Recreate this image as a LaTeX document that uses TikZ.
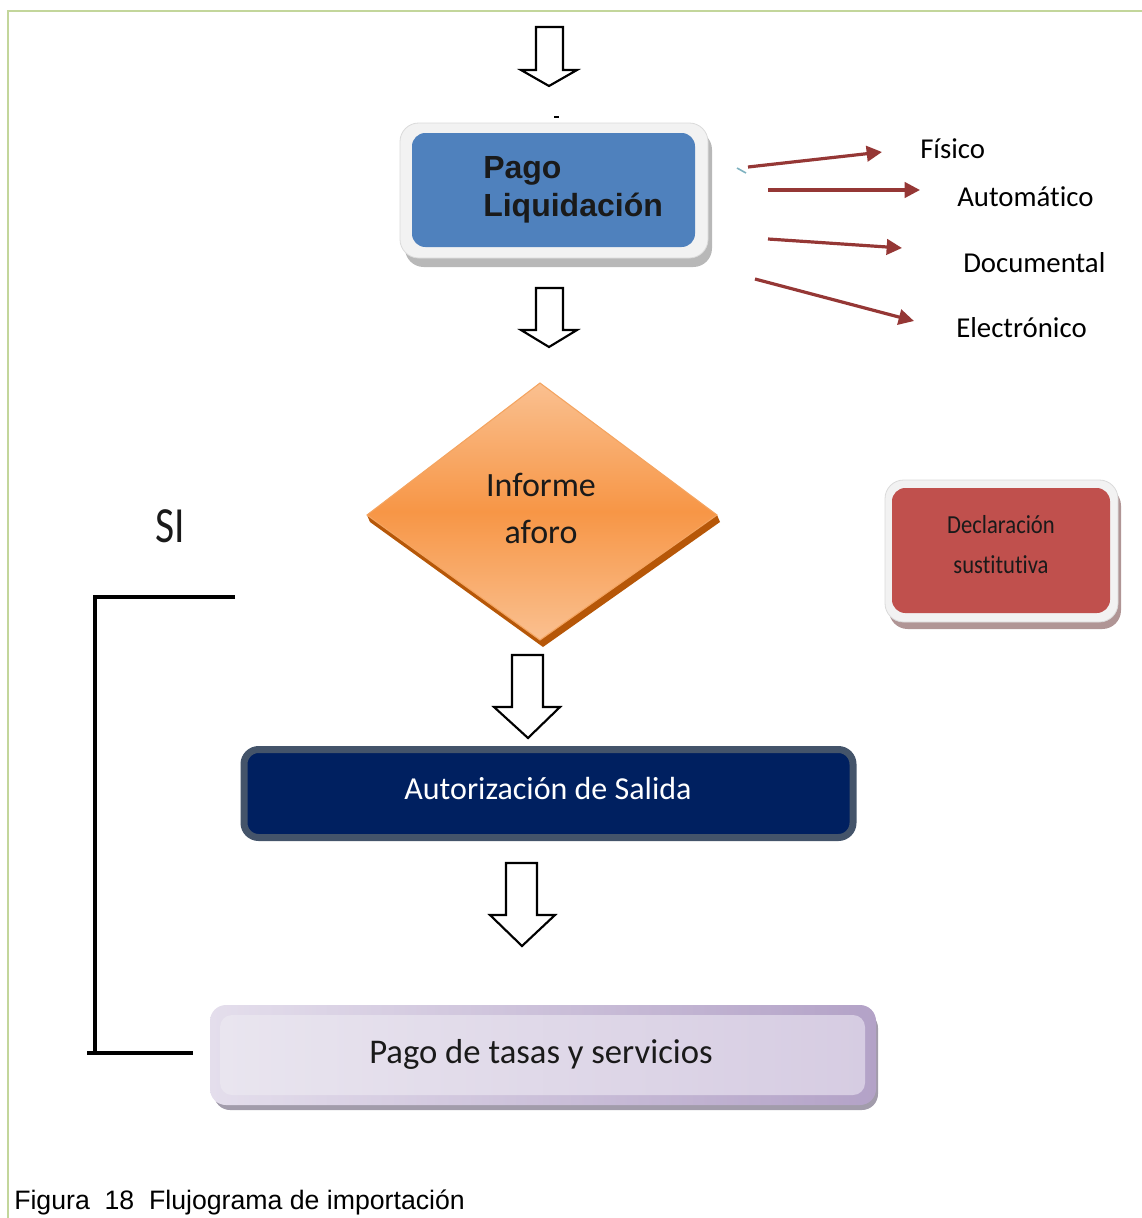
\documentclass[tikz,border=0pt]{standalone}
\usepackage{fontspec}
\setmainfont{Carlito}[Ligatures=NoCommon]
\newfontfamily\arialfont{Liberation Sans}
\usetikzlibrary{arrows.meta,shapes.geometric}
\definecolor{pblue}{HTML}{4F81BD}
\definecolor{frameg}{HTML}{F2F2F2}
\definecolor{frameline}{HTML}{DADADA}
\definecolor{shadowg}{HTML}{B8B8B8}
\definecolor{arrred}{HTML}{953735}
\definecolor{dred}{HTML}{C0504D}
\definecolor{dredsh}{HTML}{B09595}
\definecolor{orlight}{HTML}{FAC090}
\definecolor{ormid}{HTML}{F79646}
\definecolor{orshadow}{HTML}{B65708}
\definecolor{oredge}{HTML}{F4A460}
\definecolor{navyb}{HTML}{002060}
\definecolor{slateb}{HTML}{44546A}
\definecolor{lilacL}{HTML}{E4DEEC}
\definecolor{lilacR}{HTML}{B3A2C7}
\definecolor{lilacIn}{HTML}{E9E5EF}
\definecolor{lilacIn2}{HTML}{D6CCE2}
\definecolor{lilacsh}{HTML}{A29CAB}
\definecolor{greenframe}{HTML}{C3D69B}
\definecolor{txtdark}{HTML}{1A1A1A}
\definecolor{tick}{HTML}{7FB2C0}
\tikzset{
  blockarr/.style={draw=black, fill=white, line width=1.6pt, line join=miter},
  redarr/.style={draw=arrred, line width=2.4pt, -{Triangle[length=11.5pt,width=11.5pt]}},
  lbl/.style={font=\fontsize{21.6pt}{25pt}\selectfont, anchor=base west, inner sep=0pt, text=black},
  bracket/.style={line width=2.6pt, draw=black},
  txt/.style={inner sep=0pt, anchor=base},
}
\begin{document}
\begin{tikzpicture}[x=0.75pt,y=-0.75pt]
\useasboundingbox (0,0) rectangle (1142,1218);
% green frame
\draw[greenframe, line width=1.2pt] (8,1218) -- (8,11) -- (1142,11);

% top block arrow
\draw[blockarr] (536,27) -- (563,27) -- (563,70) -- (577,70) -- (549,86) -- (521,70) -- (536,70) -- cycle;
\draw[black, line width=1pt] (554,117) -- (559,117);

% Pago Liquidacion box
\fill[shadowg, rounded corners=14pt] (405,131) rectangle (712,267);
\filldraw[fill=frameg, draw=frameline, line width=0.6pt, rounded corners=14pt] (400,123) rectangle (708,258);
\node[fill=pblue, rounded corners=10pt, minimum width={283*0.75pt}, minimum height={114*0.75pt}, inner sep=0pt] (pago) at (553.5,190) {};
\node[txt, anchor=base west, text=txtdark, font=\arialfont\bfseries\fontsize{24pt}{28pt}\selectfont] (pagoA) at (483,178) {Pago};
\node[txt, anchor=base west, text=txtdark, font=\arialfont\bfseries\fontsize{24pt}{28pt}\selectfont] (pagoB) at (483,216) {Liquidación};

% red arrows and labels
\draw[tick, line width=1.2pt] (737,168) -- (746,173);
\coordinate (r1s) at (748,167); \coordinate (r1e) at (882,152);
\coordinate (r2s) at (768,190); \coordinate (r2e) at (920,190);
\coordinate (r3s) at (768,239); \coordinate (r3e) at (902,248);
\coordinate (r4s) at (755,279); \coordinate (r4e) at (914,321);
\draw[redarr] (r1s) -- (r1e);
\draw[redarr] (r2s) -- (r2e);
\draw[redarr] (r3s) -- (r3e);
\draw[redarr] (r4s) -- (r4e);
\node[lbl] (fis) at (920,158) {Físico};
\node[lbl] (aut) at (957,206) {Automático};
\node[lbl] (doc) at (963,272) {Documental};
\node[lbl] (ele) at (956,337) {Electrónico};

% second block arrow
\draw[blockarr] (536,288) -- (563,288) -- (563,330) -- (577,330) -- (549,347) -- (521,330) -- (536,330) -- cycle;

% diamond
\coordinate (dtop) at (540,383);
\coordinate (dright) at (717,515);
\coordinate (dbot) at (540,640);
\coordinate (dleft) at (367,515);
\fill[orshadow] ([shift={(3,7)}]dleft) -- ([shift={(3,7)}]dbot) -- ([shift={(3,7)}]dright) -- (dright) -- (dbot) -- (dleft) -- cycle;
\shade[top color=orlight, bottom color=orlight, middle color=ormid] (dtop) -- (dright) -- (dbot) -- (dleft) -- cycle;
\draw[oredge, line width=0.8pt] (dtop) -- (dright) -- (dbot) -- (dleft) -- cycle;
\node[txt, text=txtdark, font=\fontsize{25.5pt}{30pt}\selectfont] (inf1) at (541,496) {Informe};
\node[txt, text=txtdark, font=\fontsize{25.5pt}{30pt}\selectfont] (inf2) at (541,543) {aforo};

% SI
\node[txt, text=txtdark, font=\fontsize{38pt}{44pt}\selectfont] (si) at (170,542) {\scalebox{0.82}[1]{SI}};

% Declaracion box
\fill[dredsh, rounded corners=14pt] (889,487) rectangle (1121,629);
\filldraw[fill=frameg, draw=frameline, line width=0.6pt, rounded corners=14pt] (885,480) rectangle (1118,622);
\node[fill=dred, rounded corners=10pt, minimum width={218*0.75pt}, minimum height={125*0.75pt}, inner sep=0pt] (decl) at (1001,550.5) {};
\node[txt, text=txtdark, font=\fontsize{19.5pt}{23pt}\selectfont] (decl1) at (1001,533) {\scalebox{0.87}[1]{Declaración}};
\node[txt, text=txtdark, font=\fontsize{19.5pt}{23pt}\selectfont] (decl2) at (1001,573) {\scalebox{0.87}[1]{sustitutiva}};

% third block arrow
\draw[blockarr] (512,655) -- (543,655) -- (543,707) -- (560,707) -- (528,738) -- (494,707) -- (512,707) -- cycle;

% Autorizacion box
\node[fill=navyb, draw=slateb, line width={7*0.75pt}, rounded corners=11pt, minimum width={609*0.75pt}, minimum height={88*0.75pt}, inner sep=0pt] (autb) at (548.5,793.5) {};
\node[txt, text=white, font=\fontsize{24pt}{28pt}\selectfont] (autt) at (548,799) {Autorización de Salida};

% fourth block arrow
\draw[blockarr] (506,863) -- (537,863) -- (537,915) -- (555,915) -- (522,946) -- (490,915) -- (506,915) -- cycle;

% Pago de tasas box
\fill[lilacsh, rounded corners=12pt] (214,1012) rectangle (878,1110);
\node[left color=lilacL, right color=lilacR, rounded corners=12pt, minimum width={666*0.75pt}, minimum height={100*0.75pt}, inner sep=0pt] (tasas) at (543,1055) {};
\shade[left color=lilacIn, right color=lilacIn2, rounded corners=9pt] (220,1015) rectangle (865,1095);
\node[txt, text=txtdark, font=\fontsize{26pt}{30pt}\selectfont] (tasast) at (541,1063) {Pago de tasas y servicios};

% black bracket
\coordinate (bTL) at (95,597);
\coordinate (bTR) at (235,597);
\coordinate (bBL) at (95,1053);
\coordinate (bBR) at (193,1053);
\draw[bracket] (bTR) -- (bTL) -- (bBL);
\draw[bracket, line width=3.6pt] ([xshift=-6]bBL) -- (bBR);

% caption
\node[inner sep=0pt, anchor=base west, font=\arialfont\fontsize{20pt}{24pt}\selectfont] (cap) at (14,1209) {Figura\ \ 18\ \ Flujograma de importación};
\end{tikzpicture}
\end{document}
